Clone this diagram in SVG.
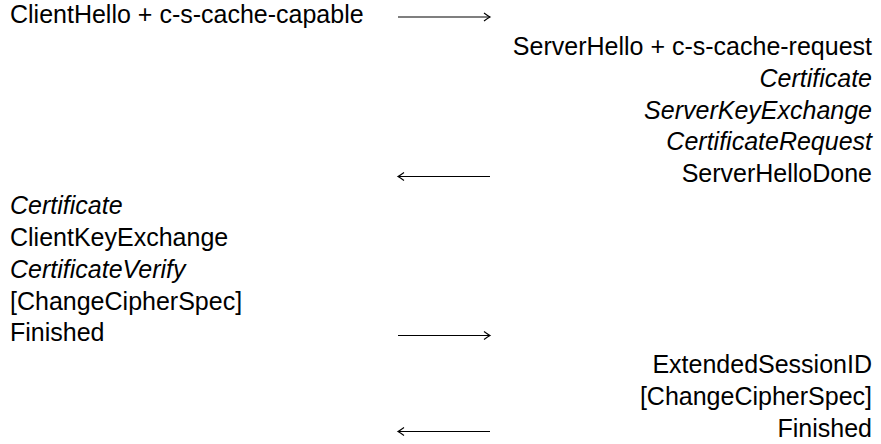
<svg xmlns="http://www.w3.org/2000/svg" width="881" height="444" viewBox="0 0 881 444">
<style>
text{font-family:"Liberation Sans",Arial,sans-serif;font-size:25px;fill:#000}
.r{text-anchor:end}
.i{font-style:italic}
.arr{stroke:#000;stroke-width:1.2;fill:none}
</style>
<defs>
<marker id="tip" markerUnits="userSpaceOnUse" viewBox="-8 -5 10 10" refX="0" refY="0" markerWidth="10" markerHeight="10" orient="auto">
<path d="M-6,-4 Q-2,-1 0,0 Q-2,1 -6,4" stroke="#000" stroke-width="1.1" fill="none"/>
</marker>
</defs>
<rect width="881" height="444" fill="#fff"/>
<g id="m-clienthello"><text x="10" y="23">ClientHello + c-s-cache-capable</text></g>
<g id="m-serverhello"><text class="r" x="872" y="55">ServerHello + c-s-cache-request</text></g>
<g id="m-server-certificate"><text class="r i" x="872" y="87">Certificate</text></g>
<g id="m-serverkeyexchange"><text class="r i" x="872" y="119">ServerKeyExchange</text></g>
<g id="m-certificaterequest"><text class="r i" x="872" y="150">CertificateRequest</text></g>
<g id="m-serverhellodone"><text class="r" x="872" y="182">ServerHelloDone</text></g>
<g id="m-client-certificate"><text class="i" x="10" y="214">Certificate</text></g>
<g id="m-clientkeyexchange"><text x="10" y="246">ClientKeyExchange</text></g>
<g id="m-certificateverify"><text class="i" x="10" y="278">CertificateVerify</text></g>
<g id="m-client-ccs"><text x="10" y="310">[ChangeCipherSpec]</text></g>
<g id="m-client-finished"><text x="10" y="341">Finished</text></g>
<g id="m-extendedsessionid"><text class="r" x="872" y="373">ExtendedSessionID</text></g>
<g id="m-server-ccs"><text class="r" x="872" y="405">[ChangeCipherSpec]</text></g>
<g id="m-server-finished"><text class="r" x="872" y="437">Finished</text></g>
<g id="connectors">
<line class="arr" x1="398" y1="17" x2="490" y2="17" marker-end="url(#tip)"/>
<line class="arr" x1="490" y1="176.5" x2="398" y2="176.5" marker-end="url(#tip)"/>
<line class="arr" x1="398" y1="335.5" x2="490" y2="335.5" marker-end="url(#tip)"/>
<line class="arr" x1="490" y1="431.5" x2="398" y2="431.5" marker-end="url(#tip)"/>
</g>
</svg>
